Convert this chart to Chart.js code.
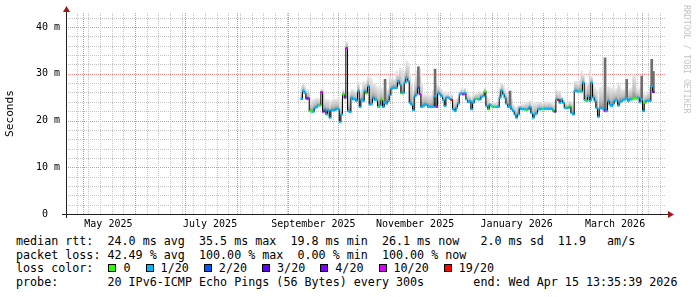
<!DOCTYPE html>
<html>
<head>
<meta charset="utf-8">
<script src="https://cdn.jsdelivr.net/npm/chart.js@4.4.1/dist/chart.umd.min.js"></script>
<style>
html, body { margin: 0; padding: 0; background: #fff; }
#wrap { position: relative; width: 697px; height: 297px; overflow: hidden; font-family: 'DejaVu Sans Mono', monospace; }
#chart { position: absolute; left: 0; top: 0; }
.row { position: absolute; left: 16px; font-size: 11.7px; line-height: 14px; white-space: pre; color: #000; }
.box { display: inline-block; width: 6px; height: 6px; border: 1px solid #000; margin: 0 7px 0 1px; }
#wm { position: absolute; left: 682px; top: 5px; writing-mode: vertical-rl; font-size: 8.2px; color: #c4c4c4; white-space: pre; }
</style>
</head>
<body>
<div id="wrap">
    <canvas id="chart" width="697" height="232"></canvas>
    <div id="wm">RRDTOOL / TOBI OETIKER</div>
    <div class="row" style="top:234px">median rtt:  24.0 ms avg  35.5 ms max  19.8 ms min  26.1 ms now   2.0 ms sd  11.9   am/s</div>
    <div class="row" style="top:248px">packet loss: 42.49 % avg  100.00 % max  0.00 % min  100.00 % now</div>
    <div class="row" id="lossRow" style="top:261px">loss color:  </div>
    <div class="row" style="top:275px">probe:       20 IPv6-ICMP Echo Pings (56 Bytes) every 300s       end: Wed Apr 15 13:35:39 2026</div>
</div>
<script>
// --- Datos ---
const firstDay = '2025-09-09';   // primer valor de la mediana (un valor por día)

const medianRtt = [
    24.6, 26.3, 25.9, 24.7, 24.7, 22.0, 21.9, 21.9, 22.7, 22.9,
    23.2, 23.2, 26.1, 21.9, 22.4, 21.3, 22.2, 20.6, 22.2, 22.2,
    22.2, 22.5, 22.4, 19.7, 21.3, 25.6, 24.9, 35.5, 22.0, 21.8,
    24.9, 24.5, 24.6, 24.2, 26.3, 22.9, 24.5, 24.2, 26.3, 25.8,
    27.35, 23.4, 23.6, 24.9, 24.4, 24.4, 22.9, 23.2, 24.5, 22.9,
    23.8, 23.6, 24.2, 25.4, 26.8, 27.0, 27.0, 27.0, 28.4, 27.7,
    25.8, 25.9, 28.1, 29.1, 28.4, 23.8, 23.4, 22.2, 25.2, 25.6,
    27.0, 25.6, 22.9, 23.1, 23.4, 23.4, 22.9, 22.9, 22.9, 22.9,
    25.2, 22.9, 25.9, 25.6, 25.2, 24.4, 23.1, 24.9, 24.9, 24.6,
    24.4, 22.4, 22.0, 22.7, 23.6, 25.6, 25.8, 25.6, 25.9, 24.5,
    23.9, 24.2, 22.4, 23.8, 24.5, 24.6, 24.5, 24.5, 25.1, 25.2,
    26.2, 23.1, 22.4, 23.4, 23.1, 22.9, 22.9, 22.9, 22.9, 24.9,
    26.4, 25.6, 24.9, 23.6, 22.9, 22.9, 22.4, 22.0, 21.3, 20.6,
    21.3, 22.7, 22.4, 22.4, 22.4, 22.2, 22.4, 22.9, 21.6, 20.6,
    21.3, 21.5, 22.4, 22.4, 22.4, 22.4, 22.5, 22.5, 22.5, 22.5,
    22.5, 22.0, 21.9, 24.5, 24.4, 23.8, 24.5, 23.8, 22.7, 22.7,
    22.7, 23.1, 21.6, 21.3, 26.3, 26.3, 26.2, 26.2, 26.2, 28.1,
    24.4, 24.2, 25.2, 24.2, 28.1, 24.9, 24.2, 22.7, 20.8, 22.6,
    22.6, 22.6, 22.0, 22.0, 24.2, 23.4, 23.1, 23.6, 24.2, 24.4,
    23.2, 23.9, 24.2, 24.4, 24.5, 24.7, 24.2, 24.5, 24.5, 24.7,
    24.7, 24.7, 24.9, 23.9, 24.5, 22.0, 23.8, 24.2, 24.2, 24.2,
    27.35, 26.1
];

// parte alta del humo (ping más lento aprox.)
const smokeTop = [
    27.3, 28.0, 27.3, 26.6, 26.6, 24.3, 24.2, 24.5, 24.6, 24.8,
    24.8, 24.5, 26.8, 26.6, 24.5, 24.5, 24.5, 23.5, 24.3, 24.5,
    24.6, 24.5, 24.8, 22.5, 24.8, 26.6, 26.0, 36.8, 25.8, 26.0,
    26.6, 26.6, 26.3, 26.2, 28.2, 26.0, 26.6, 28.4, 28.0, 28.4,
    29.5, 29.3, 28.8, 28.0, 27.8, 27.3, 27.0, 27.3, 27.0, 26.6,
    26.8, 26.5, 26.8, 29.5, 29.0, 29.0, 28.8, 30.6, 30.0, 31.3,
    31.0, 29.5, 30.6, 32.7, 32.3, 30.0, 28.0, 26.3, 28.5, 30.6,
    30.0, 31.0, 28.0, 25.6, 25.6, 25.4, 25.6, 25.2, 25.6, 26.5,
    25.8, 27.8, 27.5, 27.2, 26.6, 26.0, 26.2, 25.6, 25.8, 25.4,
    25.6, 24.5, 24.2, 24.6, 25.0, 26.3, 26.8, 26.6, 26.9, 26.3,
    25.6, 25.4, 25.0, 25.6, 25.6, 25.8, 25.9, 26.2, 26.0, 26.2,
    27.0, 25.2, 24.8, 23.9, 23.6, 23.8, 23.8, 23.6, 24.2, 27.0,
    28.0, 27.6, 26.6, 26.0, 25.4, 24.8, 24.6, 23.4, 23.0, 22.8,
    23.3, 23.2, 23.6, 23.4, 23.6, 24.0, 23.8, 24.3, 23.8, 23.6,
    23.8, 23.6, 23.8, 24.0, 23.8, 23.8, 24.0, 23.6, 24.0, 23.9,
    23.8, 23.6, 23.7, 26.6, 25.8, 26.4, 25.0, 24.6, 23.8, 23.8,
    23.6, 24.2, 23.9, 24.0, 28.4, 28.4, 28.0, 28.6, 30.6, 30.0,
    28.4, 27.6, 28.0, 30.9, 29.4, 27.5, 27.0, 26.6, 23.0, 27.0,
    27.2, 26.8, 27.0, 26.2, 27.3, 27.0, 26.8, 27.3, 26.6, 26.8,
    28.1, 27.5, 26.6, 26.6, 26.8, 27.0, 26.4, 26.8, 27.0, 29.8,
    29.6, 27.2, 26.6, 27.0, 26.2, 25.8, 25.6, 25.6, 26.3, 27.0,
    28.5, 26.8
];

// picos de humo oscuro (índice del día y valor máximo)
const spikeIdx = [50, 70, 80, 125, 182, 195, 204, 210, 211];
const spikeTop = [28.8, 31.5, 31.0, 26.3, 33.4, 28.8, 29.5, 33.1, 30.5];

// nivel de pérdida por día (por defecto 1/20); índice -> clase
const lossIdx = [3, 4, 5, 6, 11, 12, 13, 25, 26, 27, 39, 46, 48, 60, 70, 71, 81, 90, 97,
    105, 110, 112, 114, 116, 135, 145, 151, 152, 154, 161, 167, 171, 182, 199, 200, 201, 206, 211];
const lossCls = [4, 4, 0, 0, 0, 5, 4, 0, 4, 5, 0, 0, 0, 0, 2, 5, 5, 6, 5,
    0, 0, 0, 0, 0, 0, 0, 0, 3, 6, 0, 0, 0, 5, 0, 0, 0, 0, 4];

const lossColors = ['#26ff00', '#00b8ff', '#0059ff', '#5e00ff', '#7e00ff', '#dd00ff', '#ff0000'];
const lossLabels = ['0', '1/20', '2/20', '3/20', '4/20', '10/20', '19/20'];

const yTickLabels = ['0  ', '10 m', '20 m', '30 m', '40 m'];
const monthLabels = ['May 2025', 'July 2025', 'September 2025', 'November 2025', 'January 2026', 'March 2026'];
const monthLabelDates = ['2025-05-16', '2025-07-16', '2025-09-16', '2025-11-16', '2026-01-16', '2026-03-16'];
const monthStarts = ['2025-05-01', '2025-06-01', '2025-07-01', '2025-08-01', '2025-09-01', '2025-10-01',
    '2025-11-01', '2025-12-01', '2026-01-01', '2026-02-01', '2026-03-01', '2026-04-01'];

// --- Eje de tiempo en días desde el inicio de la gráfica ---
const graphStart = Date.UTC(2025, 3, 20, 13, 35, 39);
const graphDays = 360;
const DAY = 86400000;
function dayOf(s) { return (Date.parse(s + 'T00:00:00Z') - graphStart) / DAY; }

const day0 = dayOf(firstDay);
const xs = medianRtt.map((v, i) => day0 + i);

const lossOf = medianRtt.map(() => 1);
lossIdx.forEach((k, j) => { lossOf[k] = lossCls[j]; });

// rejilla semanal (domingos) y mensual
const weekTicks = [];
for (let d = dayOf('2025-04-27'); d < graphDays; d += 7) weekTicks.push(d);
const monthTicks = monthStarts.map(dayOf);
const labelTicks = monthLabelDates.map(dayOf);
const yMinorStep = 2;
const yMajorStep = 10;

const monoFont = "'DejaVu Sans Mono', monospace";
const minorGrid = '#c4c4c4';
const majorGrid = '#ec8a8a';

// Rejilla punteada al estilo rrdtool (usa las escalas del gráfico)
const rrdGrid = {
    id: 'rrdGrid',
    beforeDatasetsDraw(chart) {
        const {ctx, chartArea: a, scales: {x, y}} = chart;
        const line = (x1, y1, x2, y2, color) => {
            ctx.strokeStyle = color;
            ctx.beginPath();
            ctx.moveTo(x1, y1);
            ctx.lineTo(x2, y2);
            ctx.stroke();
        };
        ctx.save();
        ctx.lineWidth = 1;
        ctx.setLineDash([1, 1]);
        for (let v = yMinorStep; v <= y.max; v += yMinorStep) {
            const py = Math.round(y.getPixelForValue(v)) + 0.5;
            line(a.left, py, a.right, py, v % yMajorStep === 0 ? majorGrid : minorGrid);
        }
        weekTicks.forEach(v => {
            const px = Math.round(x.getPixelForValue(v)) + 0.5;
            line(px, a.bottom, px, a.top, minorGrid);
        });
        monthTicks.forEach(v => {
            const px = Math.round(x.getPixelForValue(v)) + 0.5;
            line(px, a.bottom, px, a.top, majorGrid);
        });
        ctx.restore();
    }
};

// Ejes con flechas al estilo rrdtool
const axisArrows = {
    id: 'axisArrows',
    afterDraw(chart) {
        const {ctx, chartArea: a} = chart;
        ctx.save();
        ctx.strokeStyle = '#222';
        ctx.lineWidth = 1;
        ctx.beginPath();
        ctx.moveTo(a.left - 4, a.bottom + 0.5);
        ctx.lineTo(a.right + 3, a.bottom + 0.5);
        ctx.moveTo(a.left + 0.5, a.bottom + 4);
        ctx.lineTo(a.left + 0.5, a.top - 2);
        ctx.stroke();
        ctx.fillStyle = '#a01818';
        ctx.beginPath();
        ctx.moveTo(a.right + 2, a.bottom - 3);
        ctx.lineTo(a.right + 8, a.bottom + 0.5);
        ctx.lineTo(a.right + 2, a.bottom + 4);
        ctx.closePath();
        ctx.fill();
        ctx.beginPath();
        ctx.moveTo(a.left - 3, a.top - 1);
        ctx.lineTo(a.left + 0.5, a.top - 7);
        ctx.lineTo(a.left + 4, a.top - 1);
        ctx.closePath();
        ctx.fill();
        ctx.restore();
    }
};

function smokeGradient(ctx) {
    const chart = ctx.chart;
    if (ctx.type !== 'data' || !chart.scales.y) return '#c8c8c8';
    const i = ctx.dataIndex;
    const y = chart.scales.y;
    const y0 = y.getPixelForValue(medianRtt[i]);
    const y1 = y.getPixelForValue(smokeTop[i]);
    if (!isFinite(y0) || !isFinite(y1) || Math.abs(y0 - y1) < 0.5) return '#9a9a9a';
    const g = chart.ctx.createLinearGradient(0, y0, 0, y1);
    g.addColorStop(0, '#888888');
    g.addColorStop(0.35, '#bcbcbc');
    g.addColorStop(1, '#e8e8e8');
    return g;
}

const chartData = {
    datasets: [
        {
            type: 'line',
            label: 'median rtt',
            data: xs.map((x, i) => ({x: x, y: medianRtt[i]})),
            stepped: 'middle',
            borderColor: '#000',
            borderWidth: 1,
            pointStyle: 'line',
            pointRadius: 1.3,
            pointHoverRadius: 1.3,
            pointBorderWidth: 2,
            pointBorderColor: lossOf.map(c => lossColors[c]),
            pointBackgroundColor: lossOf.map(c => lossColors[c]),
            order: 0
        },
        {
            type: 'bar',
            label: 'smoke spikes',
            data: spikeIdx.map((k, j) => ({x: xs[k], y: [medianRtt[k], spikeTop[j]]})),
            backgroundColor: '#6e6e6e',
            grouped: false,
            barThickness: 2,
            order: 1
        },
        {
            type: 'bar',
            label: 'smoke',
            data: xs.map((x, i) => ({x: x, y: [medianRtt[i], smokeTop[i]]})),
            backgroundColor: smokeGradient,
            grouped: false,
            barPercentage: 1,
            categoryPercentage: 1,
            order: 2
        }
    ]
};

const chartOptions = {
    responsive: false,
    animation: false,
    events: [],
    layout: { padding: { top: 13, right: 31, left: 0, bottom: 0 } },
    plugins: { legend: { display: false }, tooltip: { enabled: false } },
    scales: {
        x: {
            type: 'linear',
            min: 0,
            max: graphDays,
            offset: false,
            afterFit: (scale) => { scale.height = 18; },
            afterBuildTicks: (scale) => {
                scale.ticks = labelTicks.map((v, i) => ({value: v, text: monthLabels[i]}));
            },
            border: { display: false },
            grid: { display: false, offset: false, drawTicks: false },
            ticks: {
                autoSkip: false,
                maxRotation: 0,
                padding: 4,
                color: '#000',
                font: { family: monoFont, size: 10 },
                callback: (v, i, ticks) => (ticks[i] ? ticks[i].text : '')
            }
        },
        y: {
            min: 0,
            max: 43,
            afterFit: (scale) => { scale.width = 66; },
            afterBuildTicks: (scale) => {
                scale.ticks = yTickLabels.map((t, i) => ({value: i * yMajorStep, text: t}));
            },
            border: { display: false },
            grid: { display: false, drawTicks: false },
            ticks: {
                autoSkip: false,
                padding: 6,
                color: '#000',
                font: { family: monoFont, size: 10 },
                callback: (v, i, ticks) => (ticks[i] ? ticks[i].text : '')
            },
            title: {
                display: true,
                text: 'Seconds',
                color: '#000',
                font: { family: monoFont, size: 11.2 },
                padding: { top: 3, bottom: 0 }
            }
        }
    }
};

new Chart(document.getElementById('chart'), {
    data: chartData,
    options: chartOptions,
    plugins: [rrdGrid, axisArrows]
});

// leyenda de colores de pérdida
const lossRow = document.getElementById('lossRow');
lossColors.forEach((c, i) => {
    const b = document.createElement('span');
    b.className = 'box';
    b.style.background = c;
    lossRow.appendChild(b);
    lossRow.appendChild(document.createTextNode(lossLabels[i] + (i < lossColors.length - 1 ? '  ' : '')));
});
</script>
</body>
</html>
